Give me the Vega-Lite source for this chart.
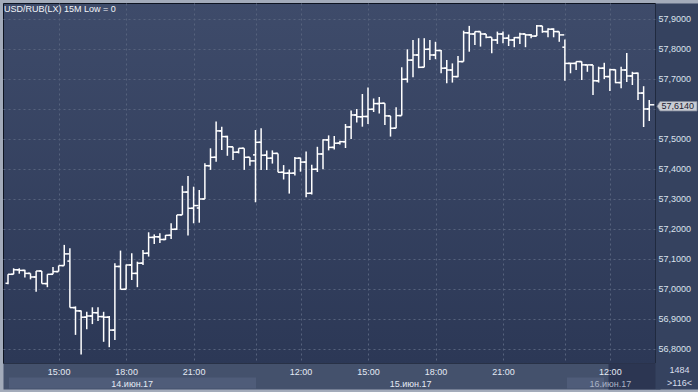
{
  "$schema": "https://vega.github.io/schema/vega-lite/v6.json",
  "width": 652,
  "height": 360,
  "autosize": {"type": "none"},
  "padding": {"left": 3, "top": 3, "right": 43, "bottom": 29},
  "background": "#a3abba",
  "title": {"text": "USD/RUB(LX) 15M Low = 0", "anchor": "start", "frame": "group", "offset": -18, "baseline": "alphabetic", "font": "Liberation Sans", "fontSize": 9, "fontWeight": "normal", "color": "#f2f4f8", "dx": 1},
  "config": {
    "locale": {"number": {"decimal": ",", "thousands": " ", "grouping": [3], "currency": ["", ""]}},
    "view": {"fill": {"gradient": "linear", "x1": 0, "y1": 0, "x2": 0, "y2": 1, "stops": [{"offset": 0, "color": "#3e4b6a"}, {"offset": 1, "color": "#2c3856"}]}, "stroke": "#0d1320", "strokeWidth": 1}
  },
  "data": {"values": [
    {"i":0,"open":57.019,"high":57.049,"low":57.016,"close":57.049},
    {"i":1,"open":57.049,"high":57.069,"low":57.049,"close":57.064},
    {"i":2,"open":57.064,"high":57.069,"low":57.051,"close":57.062},
    {"i":3,"open":57.062,"high":57.064,"low":57.038,"close":57.052},
    {"i":4,"open":57.052,"high":57.052,"low":57.032,"close":57.040},
    {"i":5,"open":57.040,"high":57.060,"low":56.991,"close":57.060},
    {"i":6,"open":57.060,"high":57.060,"low":57.018,"close":57.018},
    {"i":7,"open":57.018,"high":57.049,"low":57.006,"close":57.049},
    {"i":8,"open":57.049,"high":57.073,"low":57.049,"close":57.058},
    {"i":9,"open":57.058,"high":57.078,"low":57.058,"close":57.078},
    {"i":10,"open":57.078,"high":57.147,"low":57.078,"close":57.117},
    {"i":11,"open":57.093,"high":57.136,"low":56.938,"close":56.938},
    {"i":12,"open":56.938,"high":56.942,"low":56.847,"close":56.927},
    {"i":13,"open":56.927,"high":56.928,"low":56.782,"close":56.906},
    {"i":14,"open":56.906,"high":56.924,"low":56.866,"close":56.910},
    {"i":15,"open":56.910,"high":56.939,"low":56.883,"close":56.921},
    {"i":16,"open":56.921,"high":56.939,"low":56.893,"close":56.908},
    {"i":17,"open":56.908,"high":56.924,"low":56.824,"close":56.906},
    {"i":18,"open":56.906,"high":56.910,"low":56.806,"close":56.863},
    {"i":19,"open":56.863,"high":57.086,"low":56.830,"close":57.075},
    {"i":20,"open":57.075,"high":57.128,"low":56.999,"close":56.999},
    {"i":21,"open":56.999,"high":57.082,"low":56.999,"close":57.080},
    {"i":22,"open":57.080,"high":57.119,"low":57.030,"close":57.052},
    {"i":23,"open":57.052,"high":57.091,"low":57.006,"close":57.086},
    {"i":24,"open":57.086,"high":57.130,"low":57.080,"close":57.119},
    {"i":25,"open":57.119,"high":57.189,"low":57.108,"close":57.172},
    {"i":26,"open":57.172,"high":57.182,"low":57.150,"close":57.174},
    {"i":27,"open":57.174,"high":57.186,"low":57.153,"close":57.165},
    {"i":28,"open":57.165,"high":57.180,"low":57.163,"close":57.179},
    {"i":29,"open":57.179,"high":57.219,"low":57.167,"close":57.199},
    {"i":30,"open":57.199,"high":57.247,"low":57.197,"close":57.247},
    {"i":31,"open":57.247,"high":57.344,"low":57.247,"close":57.323},
    {"i":32,"open":57.323,"high":57.377,"low":57.178,"close":57.269},
    {"i":33,"open":57.269,"high":57.341,"low":57.219,"close":57.278},
    {"i":34,"open":57.270,"high":57.330,"low":57.221,"close":57.300},
    {"i":35,"open":57.300,"high":57.419,"low":57.300,"close":57.411},
    {"i":36,"open":57.411,"high":57.469,"low":57.397,"close":57.439},
    {"i":37,"open":57.439,"high":57.558,"low":57.424,"close":57.527},
    {"i":38,"open":57.527,"high":57.541,"low":57.463,"close":57.508},
    {"i":39,"open":57.508,"high":57.511,"low":57.444,"close":57.474},
    {"i":40,"open":57.474,"high":57.474,"low":57.430,"close":57.456},
    {"i":41,"open":57.456,"high":57.469,"low":57.452,"close":57.469},
    {"i":42,"open":57.469,"high":57.469,"low":57.397,"close":57.439},
    {"i":43,"open":57.439,"high":57.439,"low":57.411,"close":57.427},
    {"i":44,"open":57.447,"high":57.530,"low":57.289,"close":57.489},
    {"i":45,"open":57.489,"high":57.536,"low":57.397,"close":57.446},
    {"i":46,"open":57.446,"high":57.462,"low":57.397,"close":57.436},
    {"i":47,"open":57.436,"high":57.462,"low":57.418,"close":57.452},
    {"i":48,"open":57.452,"high":57.452,"low":57.389,"close":57.389},
    {"i":49,"open":57.389,"high":57.413,"low":57.365,"close":57.386},
    {"i":50,"open":57.386,"high":57.398,"low":57.318,"close":57.386},
    {"i":51,"open":57.386,"high":57.440,"low":57.378,"close":57.436},
    {"i":52,"open":57.436,"high":57.438,"low":57.391,"close":57.423},
    {"i":53,"open":57.423,"high":57.458,"low":57.306,"close":57.319},
    {"i":54,"open":57.319,"high":57.414,"low":57.315,"close":57.399},
    {"i":55,"open":57.399,"high":57.474,"low":57.390,"close":57.450},
    {"i":56,"open":57.450,"high":57.499,"low":57.399,"close":57.497},
    {"i":57,"open":57.497,"high":57.512,"low":57.462,"close":57.472},
    {"i":58,"open":57.472,"high":57.510,"low":57.465,"close":57.486},
    {"i":59,"open":57.486,"high":57.494,"low":57.482,"close":57.491},
    {"i":60,"open":57.491,"high":57.550,"low":57.470,"close":57.540},
    {"i":61,"open":57.540,"high":57.595,"low":57.500,"close":57.580},
    {"i":62,"open":57.580,"high":57.600,"low":57.555,"close":57.574},
    {"i":63,"open":57.574,"high":57.650,"low":57.541,"close":57.575},
    {"i":64,"open":57.575,"high":57.672,"low":57.550,"close":57.599},
    {"i":65,"open":57.599,"high":57.635,"low":57.590,"close":57.618},
    {"i":66,"open":57.618,"high":57.640,"low":57.585,"close":57.619},
    {"i":67,"open":57.619,"high":57.619,"low":57.547,"close":57.577},
    {"i":68,"open":57.577,"high":57.577,"low":57.508,"close":57.536},
    {"i":69,"open":57.536,"high":57.606,"low":57.536,"close":57.578},
    {"i":70,"open":57.578,"high":57.739,"low":57.578,"close":57.699},
    {"i":71,"open":57.699,"high":57.799,"low":57.688,"close":57.763},
    {"i":72,"open":57.763,"high":57.830,"low":57.706,"close":57.780},
    {"i":73,"open":57.780,"high":57.836,"low":57.736,"close":57.739},
    {"i":74,"open":57.739,"high":57.836,"low":57.739,"close":57.799},
    {"i":75,"open":57.799,"high":57.830,"low":57.763,"close":57.780},
    {"i":76,"open":57.780,"high":57.824,"low":57.766,"close":57.795},
    {"i":77,"open":57.795,"high":57.797,"low":57.719,"close":57.736},
    {"i":78,"open":57.736,"high":57.763,"low":57.686,"close":57.730},
    {"i":79,"open":57.730,"high":57.752,"low":57.688,"close":57.708},
    {"i":80,"open":57.708,"high":57.777,"low":57.706,"close":57.758},
    {"i":81,"open":57.758,"high":57.861,"low":57.758,"close":57.854},
    {"i":82,"open":57.854,"high":57.877,"low":57.791,"close":57.850},
    {"i":83,"open":57.850,"high":57.858,"low":57.813,"close":57.858},
    {"i":84,"open":57.858,"high":57.858,"low":57.808,"close":57.850},
    {"i":85,"open":57.850,"high":57.850,"low":57.836,"close":57.839},
    {"i":86,"open":57.839,"high":57.839,"low":57.786,"close":57.830},
    {"i":87,"open":57.830,"high":57.858,"low":57.817,"close":57.850},
    {"i":88,"open":57.850,"high":57.858,"low":57.819,"close":57.836},
    {"i":89,"open":57.836,"high":57.848,"low":57.810,"close":57.830},
    {"i":90,"open":57.830,"high":57.840,"low":57.806,"close":57.838},
    {"i":91,"open":57.838,"high":57.854,"low":57.817,"close":57.850},
    {"i":92,"open":57.850,"high":57.850,"low":57.806,"close":57.847},
    {"i":93,"open":57.847,"high":57.850,"low":57.836,"close":57.843},
    {"i":94,"open":57.843,"high":57.880,"low":57.843,"close":57.877},
    {"i":95,"open":57.877,"high":57.877,"low":57.854,"close":57.858},
    {"i":96,"open":57.858,"high":57.869,"low":57.839,"close":57.866},
    {"i":97,"open":57.866,"high":57.869,"low":57.839,"close":57.858},
    {"i":98,"open":57.858,"high":57.858,"low":57.824,"close":57.847},
    {"i":99,"open":57.806,"high":57.832,"low":57.694,"close":57.752},
    {"i":100,"open":57.752,"high":57.754,"low":57.719,"close":57.752},
    {"i":101,"open":57.752,"high":57.758,"low":57.730,"close":57.758},
    {"i":102,"open":57.758,"high":57.758,"low":57.697,"close":57.747},
    {"i":103,"open":57.747,"high":57.747,"low":57.724,"close":57.747},
    {"i":104,"open":57.747,"high":57.747,"low":57.647,"close":57.694},
    {"i":105,"open":57.694,"high":57.741,"low":57.688,"close":57.736},
    {"i":106,"open":57.736,"high":57.754,"low":57.700,"close":57.708},
    {"i":107,"open":57.708,"high":57.734,"low":57.660,"close":57.731},
    {"i":108,"open":57.731,"high":57.732,"low":57.686,"close":57.688},
    {"i":109,"open":57.688,"high":57.741,"low":57.669,"close":57.730},
    {"i":110,"open":57.730,"high":57.787,"low":57.690,"close":57.710},
    {"i":111,"open":57.710,"high":57.724,"low":57.680,"close":57.719},
    {"i":112,"open":57.719,"high":57.722,"low":57.630,"close":57.653},
    {"i":113,"open":57.653,"high":57.676,"low":57.540,"close":57.600},
    {"i":114,"open":57.600,"high":57.630,"low":57.560,"close":57.614}
  ]},
  "resolve": {"axis": {"x": "independent", "y": "independent"}},
  "layer": [
    {
      "mark": {"type": "rule", "color": "#ffffff", "strokeWidth": 1.5},
      "encoding": {
        "x": {"field": "i", "type": "quantitative", "scale": {"domain": [-0.8889, 115.0222], "nice": false, "zero": false},
          "axis": {"orient": "bottom", "values": [9, 21, 33, 44, 52, 57.0667, 64, 76, 88, 99, 107, 111.2],
            "title": null, "labels": false, "domain": false,
            "grid": true, "gridDash": [2, 3], "gridWidth": 1,
            "gridColor": {"condition": {"test": "datum.value == 57.0667 || datum.value == 111.2", "value": "rgba(0,0,0,0)"}, "value": "#56627d"},
            "ticks": true, "tickSize": 26,
            "tickWidth": {"condition": {"test": "datum.value == 111.2", "value": 52}, "value": 652},
            "tickColor": {"condition": {"test": "datum.value == 111.2", "value": "#2c3652"}, "value": "#44516c"},
            "tickOpacity": {"condition": {"test": "datum.value == 57.0667 || datum.value == 111.2", "value": 1}, "value": 0}}},
        "y": {"field": "low", "type": "quantitative", "scale": {"domain": [56.7533, 57.9533], "nice": false, "zero": false},
          "axis": {"orient": "right", "values": [56.8, 56.9, 57.0, 57.1, 57.2, 57.31, 57.3, 57.4, 57.5, 57.6, 57.7, 57.8, 57.9], "format": ".4f",
            "labelExpr": "abs(datum.value - 57.6) < 0.001 || datum.value == 57.31 ? '' : datum.label",
            "title": ["1484", ">116<"], "titleAngle": 0, "titleX": 24, "titleY": 362, "titleAlign": "center", "titleBaseline": "top",
            "titleFont": "Liberation Sans", "titleFontSize": 9, "titleFontWeight": "normal", "titleColor": "#d8dfeb", "titleLineHeight": 13,
            "grid": true, "gridDash": [2, 3], "gridWidth": 1,
            "gridColor": {"condition": {"test": "datum.value == 57.31", "value": "rgba(0,0,0,0)"}, "value": "#56627d"},
            "ticks": true, "tickSize": 43,
            "tickWidth": {"condition": {"test": "datum.value == 57.31", "value": 386}, "value": 0},
            "tickColor": "#35425f",
            "tickOpacity": {"condition": {"test": "datum.value == 57.31", "value": 1}, "value": 0},
            "domain": false,
            "labelPadding": -40, "labelAlign": "left", "labelBaseline": "middle", "labelColor": "#dce3ee", "labelFont": "Liberation Sans", "labelFontSize": 9,
            "labelOverlap": false, "labelFlush": false, "labelBound": false}},
        "y2": {"field": "high"}
      }
    },
    {
      "mark": {"type": "tick", "orient": "horizontal", "color": "#ffffff", "size": 2.5, "thickness": 1.5, "xOffset": -1.25, "opacity": 1},
      "encoding": {
        "x": {"field": "i", "type": "quantitative", "scale": {"domain": [-0.8889, 115.0222], "nice": false, "zero": false},
          "axis": {"orient": "bottom", "values": [9, 21, 33, 52, 64, 76, 88, 107],
            "labelExpr": "datum.value == 9 || datum.value == 64 ? '15:00' : datum.value == 21 || datum.value == 76 ? '18:00' : datum.value == 33 || datum.value == 88 ? '21:00' : '12:00'",
            "title": null, "grid": false, "ticks": false, "tickSize": 0, "domain": false,
            "labelPadding": 8.5, "labelBaseline": "middle", "labelColor": "#e4eaf4", "labelFont": "Liberation Sans", "labelFontSize": 9,
            "labelOverlap": false, "labelFlush": false, "labelBound": false}},
        "y": {"field": "open", "type": "quantitative", "scale": {"domain": [56.7533, 57.9533], "nice": false, "zero": false}, "axis": null}
      }
    },
    {
      "mark": {"type": "tick", "orient": "horizontal", "color": "#ffffff", "size": 5, "thickness": 1.5, "xOffset": 2.5, "opacity": 1},
      "encoding": {
        "x": {"field": "i", "type": "quantitative", "scale": {"domain": [-0.8889, 115.0222], "nice": false, "zero": false},
          "axis": {"orient": "bottom", "values": [22, 71.5, 102.49, 107],
            "labelExpr": "datum.value < 40 ? '14.июн.17' : datum.value < 100 ? '15.июн.17' : datum.value < 105 ? '' : '16.июн.17'",
            "title": null, "grid": false, "domain": false, "ticks": true, "tickSize": 11,
            "tickWidth": {"condition": {"test": "datum.value > 100 && datum.value < 105", "value": 37}, "value": 247},
            "tickColor": "#4f5c79",
            "tickOpacity": {"condition": {"test": "datum.value < 40 || (datum.value > 100 && datum.value < 105)", "value": 1}, "value": 0},
            "offset": 14, "labelPadding": -5, "labelBaseline": "middle",
            "labelColor": {"condition": {"test": "datum.value > 105", "value": "#aab4c6"}, "value": "#e4eaf4"},
            "labelFont": "Liberation Sans", "labelFontSize": 9,
            "labelOverlap": false, "labelFlush": false, "labelBound": false}},
        "y": {"field": "close", "type": "quantitative", "scale": {"domain": [56.7533, 57.9533], "nice": false, "zero": false}, "axis": null}
      }
    },
    {
      "transform": [{"filter": "datum.i == 114"}],
      "mark": {"type": "point", "shape": "M-1,0L-0.85,-0.235L1,-0.235L1,0.235L-0.85,0.235Z", "size": 1600, "filled": true, "fill": "#c9cdd4", "stroke": "#7d8596", "strokeWidth": 0.8, "opacity": 1, "xOffset": 27.75, "yOffset": 1.5},
      "encoding": {
        "x": {"field": "i", "type": "quantitative", "scale": {"domain": [-0.8889, 115.0222], "nice": false, "zero": false}, "axis": null},
        "y": {"field": "close", "type": "quantitative", "scale": {"domain": [56.7533, 57.9533], "nice": false, "zero": false}, "axis": null}
      }
    },
    {
      "transform": [{"filter": "datum.i == 114"}],
      "mark": {"type": "text", "align": "center", "baseline": "middle", "font": "Liberation Sans", "fontSize": 9, "color": "#1a2030", "xOffset": 28.5, "yOffset": 1.5},
      "encoding": {
        "x": {"field": "i", "type": "quantitative", "scale": {"domain": [-0.8889, 115.0222], "nice": false, "zero": false}, "axis": null},
        "y": {"field": "close", "type": "quantitative", "scale": {"domain": [56.7533, 57.9533], "nice": false, "zero": false}, "axis": null},
        "text": {"field": "close", "type": "quantitative", "format": ".4f"}
      }
    }
  ]
}
